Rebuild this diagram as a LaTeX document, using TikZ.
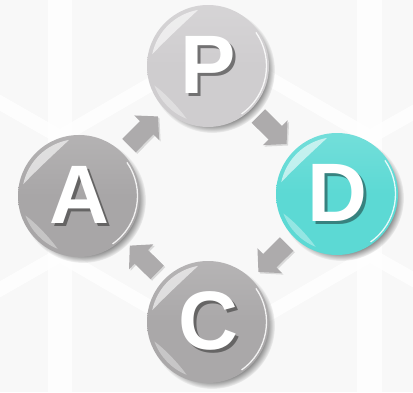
\documentclass[tikz,border=0pt]{standalone}
\usepackage{fontspec}
\setmainfont{Liberation Sans}
\usetikzlibrary{shadows,arrows.meta}

\definecolor{bgtone}{HTML}{F8F8F8}
\definecolor{plangray}{HTML}{CFCDCF}
\definecolor{actgray}{HTML}{A8A6A7}
\definecolor{checkgray}{HTML}{AAA8A9}
\definecolor{doteal}{HTML}{5CD9D4}
\definecolor{flowgray}{HTML}{ADABAC}

% glossy highlights on a ball, drawn in the ball's own frame
\newcommand{\glossball}[1]{%
  \begin{scope}[shift={(#1.center)}, y=1pt]
    \fill[white, opacity=.6] (100:57) arc[start angle=100, end angle=168, radius=57]
      .. controls (145:49) and (120:49) .. cycle;
    \fill[white, opacity=.35] (200:57) arc[start angle=200, end angle=248, radius=57]
      .. controls (235:51) and (212:51) .. cycle;
    \draw[white, opacity=.85, line width=1.3pt] (-55:58.5) arc[start angle=-55, end angle=35, radius=58.5];
  \end{scope}}

% a white capital with its shadow, set as one piece of text
\newcommand{\shadedcap}[2]{%
  \rlap{\kern3pt\raisebox{-3pt}{\textcolor{#1}{#2}}}#2}

\begin{document}
\begin{tikzpicture}[x=1pt, y=-1pt,
  ball/.style={circle, minimum size=122pt, inner sep=0pt, outer sep=0pt,
    top color=#1!86!white, bottom color=#1, middle color=#1, draw=none,
    circular drop shadow={shadow xshift=4pt, shadow yshift=-4pt, shadow scale=1.03}},
  letter/.style={text=white, font=\fontsize{83}{83}\selectfont\bfseries, inner sep=0pt},
  flow/.style={draw=flowgray, line width=19pt,
    -{Triangle[length=16pt, width=34pt]}, shorten <=10pt, shorten >=10pt},
  flowshade/.style={draw=black, opacity=.12, line width=19pt,
    -{Triangle[length=16pt, width=34pt]}, shorten <=10pt, shorten >=10pt,
    transform canvas={shift={(1.5pt,-1.5pt)}}}
]
\useasboundingbox (0,0) rectangle (413,392);

% faint honeycomb backdrop
\fill[bgtone] (0,0) rectangle (413,392);
\fill[white, opacity=.8] (48,0) rectangle (72,392);
\fill[white, opacity=.8] (357,0) rectangle (382,392);
\draw[white, opacity=.8, line width=14pt] (-10,97) -- (60,137) -- (215,47) -- (370,137) -- (423,107);
\draw[white, opacity=.8, line width=14pt] (-10,295) -- (60,255) -- (215,345) -- (370,255) -- (423,285);

% the four stages
\node[ball=plangray]  (P) at (208,66)  {};
\node[ball=doteal]    (D) at (337,194) {};
\node[ball=checkgray] (C) at (208,322) {};
\node[ball=actgray]   (A) at (79,196)  {};

\glossball{P}
\glossball{D}
\glossball{C}
\glossball{A}

% letters
\node[letter] (Pt) at (P) {\shadedcap{black!45!plangray}{P}};
\node[letter] (Dt) at (D) {\shadedcap{black!40!doteal}{D}};
\node[letter] (Ct) at (C) {\shadedcap{black!40!checkgray}{C}};
\node[letter] (At) at (A) {\shadedcap{black!40!actgray}{A}};

% cycle arrows
\foreach \a/\b in {P/D, D/C, C/A, A/P} {
  \draw[flowshade] (\a) -- (\b);
  \draw[flow] (\a) -- (\b);
}
\end{tikzpicture}
\end{document}
